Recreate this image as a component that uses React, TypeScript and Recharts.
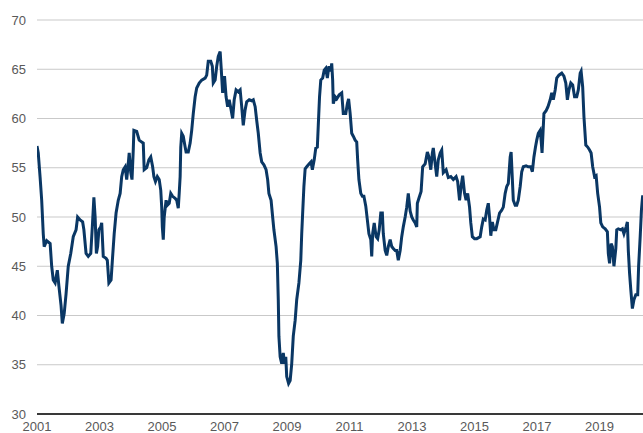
import { CartesianGrid, Line, LineChart, XAxis, YAxis } from "recharts";

// decimal years
const years = [
  2001.0, 2001.04, 2001.1, 2001.15, 2001.2, 2001.23, 2001.31, 2001.42, 2001.47, 2001.52, 2001.58, 2001.65, 2001.7, 2001.77,
  2001.81, 2001.87, 2001.93, 2002.0, 2002.08, 2002.16, 2002.25, 2002.3, 2002.38, 2002.46, 2002.5, 2002.57, 2002.64, 2002.72,
  2002.77, 2002.82, 2002.86, 2002.9, 2002.94, 2002.98, 2003.04, 2003.07, 2003.12, 2003.21, 2003.25, 2003.3, 2003.37, 2003.42,
  2003.47, 2003.53, 2003.6, 2003.66, 2003.71, 2003.76, 2003.82, 2003.87, 2003.92, 2003.95, 2004.0, 2004.04, 2004.08, 2004.1,
  2004.19, 2004.27, 2004.35, 2004.4, 2004.43, 2004.51, 2004.58, 2004.64, 2004.7, 2004.74, 2004.79, 2004.85, 2004.91, 2004.96,
  2004.99, 2005.01, 2005.04, 2005.07, 2005.13, 2005.17, 2005.23, 2005.28, 2005.34, 2005.42, 2005.47, 2005.52, 2005.55, 2005.58,
  2005.6, 2005.63, 2005.68, 2005.74, 2005.77, 2005.84, 2005.9, 2005.95, 2006.0, 2006.06, 2006.11, 2006.19, 2006.27, 2006.38,
  2006.43, 2006.48, 2006.56, 2006.61, 2006.64, 2006.7, 2006.75, 2006.8, 2006.86, 2006.89, 2006.94, 2007.0, 2007.05, 2007.1,
  2007.15, 2007.21, 2007.26, 2007.31, 2007.37, 2007.44, 2007.5, 2007.55, 2007.6, 2007.66, 2007.71, 2007.79, 2007.87, 2007.92,
  2007.98, 2008.03, 2008.08, 2008.14, 2008.19, 2008.26, 2008.33, 2008.38, 2008.42, 2008.49, 2008.54, 2008.58, 2008.65, 2008.69,
  2008.72, 2008.74, 2008.78, 2008.83, 2008.88, 2008.92, 2008.96, 2008.99, 2009.05, 2009.1, 2009.15, 2009.2, 2009.26, 2009.31,
  2009.38, 2009.44, 2009.47, 2009.5, 2009.54, 2009.58, 2009.63, 2009.71, 2009.77, 2009.81, 2009.87, 2009.92, 2009.97, 2010.0,
  2010.04, 2010.08, 2010.14, 2010.19, 2010.24, 2010.29, 2010.34, 2010.4, 2010.43, 2010.46, 2010.48, 2010.54, 2010.59, 2010.67,
  2010.75, 2010.8, 2010.88, 2010.93, 2010.97, 2011.02, 2011.07, 2011.12, 2011.18, 2011.23, 2011.26, 2011.3, 2011.36, 2011.41,
  2011.46, 2011.52, 2011.57, 2011.62, 2011.68, 2011.71, 2011.74, 2011.79, 2011.85, 2011.9, 2011.95, 2012.0, 2012.05, 2012.08,
  2012.14, 2012.19, 2012.24, 2012.3, 2012.35, 2012.4, 2012.46, 2012.51, 2012.56, 2012.62, 2012.67, 2012.72, 2012.78, 2012.83,
  2012.88, 2012.94, 2012.99, 2013.04, 2013.1, 2013.15, 2013.17, 2013.22, 2013.29, 2013.34, 2013.42, 2013.49, 2013.54, 2013.6,
  2013.65, 2013.68, 2013.74, 2013.79, 2013.84, 2013.9, 2013.95, 2014.0, 2014.09, 2014.16, 2014.24, 2014.32, 2014.41, 2014.46,
  2014.52, 2014.57, 2014.62, 2014.68, 2014.73, 2014.78, 2014.84, 2014.88, 2014.93, 2015.0, 2015.07, 2015.18, 2015.23, 2015.28,
  2015.34, 2015.39, 2015.44, 2015.48, 2015.52, 2015.57, 2015.62, 2015.68, 2015.73, 2015.8, 2015.87, 2015.92, 2015.98, 2016.03,
  2016.08, 2016.14, 2016.17, 2016.2, 2016.24, 2016.3, 2016.35, 2016.4, 2016.46, 2016.51, 2016.56, 2016.65, 2016.72, 2016.8,
  2016.85, 2016.9, 2016.95, 2016.99, 2017.04, 2017.1, 2017.13, 2017.16, 2017.19, 2017.22, 2017.29, 2017.35, 2017.42, 2017.47,
  2017.52, 2017.58, 2017.63, 2017.7, 2017.79, 2017.86, 2017.92, 2017.97, 2018.02, 2018.08, 2018.14, 2018.2, 2018.27, 2018.32,
  2018.38, 2018.41, 2018.46, 2018.5, 2018.56, 2018.62, 2018.68, 2018.73, 2018.78, 2018.84, 2018.89, 2018.94, 2019.0, 2019.04,
  2019.1, 2019.18, 2019.25, 2019.28, 2019.32, 2019.37, 2019.41, 2019.46, 2019.52, 2019.55, 2019.6, 2019.68, 2019.73, 2019.78,
  2019.85, 2019.89, 2019.92, 2019.96, 2020.0, 2020.05, 2020.1, 2020.16, 2020.22, 2020.25, 2020.3, 2020.34, 2020.38,
];

const values = [
  57.2, 56.5, 54, 51.7, 48.3, 47, 47.6, 47.3, 45, 43.6, 43.3, 44.6, 43, 41,
  39.2, 40.2, 42.2, 45, 46.3, 48, 48.7, 50, 49.7, 49.5, 48.7, 46.3, 46, 46.3,
  49, 52, 50, 46.3, 47, 48.7, 49, 49.4, 46, 45.8, 45.6, 43.3, 43.6, 46,
  48.3, 50.4, 51.7, 52.4, 54.1, 54.8, 55.1, 53.8, 55.4, 56.5, 54.5, 53.8, 56.8, 58.8,
  58.7, 57.8, 57.6, 57.5, 54.8, 55, 55.8, 56.1, 55.1, 54.1, 53.6, 54.1, 53.8, 52.7,
  51, 49, 47.7, 50, 51.7, 51.2, 51.4, 52.4, 52.1, 51.9, 51.7, 50.9, 52.4, 54.1,
  57.1, 58.5, 58.2, 57.1, 56.6, 56.6, 57.5, 58.8, 60.5, 62.2, 63.1, 63.6, 63.9, 64.1,
  64.4, 65.8, 65.8, 65.3, 63.6, 63.9, 65.3, 66.3, 66.8, 65.3, 62.6, 64.3, 62.2, 61.2,
  61.9, 60.9, 60, 61.9, 62.9, 62.7, 62.9, 61.2, 59.3, 60.9, 61.7, 61.9, 61.8, 61.9,
  61.2, 59.8, 58.5, 56.5, 55.6, 55.3, 54.8, 53.8, 52.4, 51.7, 50, 48.7, 47, 45.3,
  41.6, 37.9, 35.8, 35.1, 36.2, 35.1, 35.8, 33.8, 33.1, 33.4, 35.1, 37.9, 39.5, 41.6,
  43.3, 45.6, 48.3, 50.4, 53.1, 54.9, 55.1, 55.4, 55.6, 54.8, 55.8, 57, 57.1, 59.3,
  62.2, 63.9, 64.1, 64.9, 65.1, 64.1, 65.3, 64.8, 65.6, 63.9, 61.5, 62.2, 62, 62.4,
  62.6, 60.5, 60.5, 61.5, 62, 60.5, 58.5, 58.2, 57.8, 57.6, 55.8, 53.8, 52.4, 52.1,
  52.1, 51.1, 49.7, 48.3, 47.7, 46, 48.3, 49.4, 48, 47.8, 48.7, 50.4, 50.4, 48.3,
  46.6, 46.1, 47, 47.7, 47, 46.8, 46.6, 46.6, 45.6, 46.6, 48, 49, 50, 51,
  52.4, 50.6, 50, 49.7, 49.4, 49, 51.4, 51.9, 52.6, 55.1, 55.4, 56.6, 56.1, 54.8,
  56.5, 57, 55.4, 54.1, 55.8, 56.5, 56.8, 54.5, 54.8, 54, 54.1, 53.8, 54.1, 53.6,
  51.7, 53.1, 54.2, 52.4, 51.7, 52.4, 51, 49.4, 48, 47.8, 47.8, 48, 49, 49.8,
  49.7, 50.7, 51.4, 50, 48.1, 49.5, 48.7, 48.7, 49.4, 50.4, 50.7, 51, 52.4, 53.1,
  53.4, 56.1, 56.6, 54.5, 51.7, 51.2, 51.2, 51.7, 53.1, 54.6, 55.1, 55.2, 55.1, 55.1,
  54.6, 56.1, 57.1, 57.8, 58.5, 58.8, 57.8, 56.5, 58.5, 60.5, 60.8, 61.2, 61.9, 62.6,
  61.9, 62.9, 64.1, 64.4, 64.6, 64.3, 63.6, 61.9, 62.9, 63.6, 63.4, 62.2, 62.2, 62.9,
  64.6, 64.8, 63.2, 60.2, 57.3, 57.1, 56.8, 56.5, 55.1, 54.1, 54.2, 52.4, 51, 49.4,
  49, 48.8, 48.5, 46.3, 45.3, 47.3, 47, 45, 46.8, 48.7, 48.8, 48.7, 48.8, 48.3,
  49, 49.5, 46.6, 44.3, 42.6, 40.7, 41.6, 42.1, 42.1, 45, 48, 50.7, 52.2,
];

const yTicks = [30, 35, 40, 45, 50, 55, 60, 65, 70];
const xTicks = [2001, 2003, 2005, 2007, 2009, 2011, 2013, 2015, 2017, 2019];

const data = years.map((t, i) => ({ t, v: values[i] }));

const font = '"Liberation Sans", Arial, Helvetica, sans-serif';

export default function App() {
  return (
    <div style={{ position: "absolute", left: 0, top: 0, width: 643, height: 433, background: "#fff" }}>
      <LineChart width={643} height={433} data={data} margin={{ top: 20, right: 0, bottom: 0, left: 0 }}>
        <CartesianGrid vertical={false} stroke="#c9c9c9" strokeWidth={1} />
        <XAxis
          dataKey="t"
          type="number"
          domain={[2001, 2020.39]}
          ticks={xTicks}
          allowDataOverflow
          height={19}
          axisLine={{ stroke: "#000", strokeWidth: 1.5 }}
          tickLine={false}
          tick={{ fontSize: 13, fill: "#595959", fontFamily: font }}
        />
        <YAxis
          type="number"
          domain={[30, 70]}
          ticks={yTicks}
          width={37}
          axisLine={false}
          tickLine={false}
          tickSize={0}
          tickMargin={11}
          tick={{ fontSize: 13, fill: "#595959", fontFamily: font }}
        />
        <Line
          type="linear"
          dataKey="v"
          stroke="#0a3764"
          strokeWidth={3}
          dot={false}
          isAnimationActive={false}
        />
      </LineChart>
    </div>
  );
}
